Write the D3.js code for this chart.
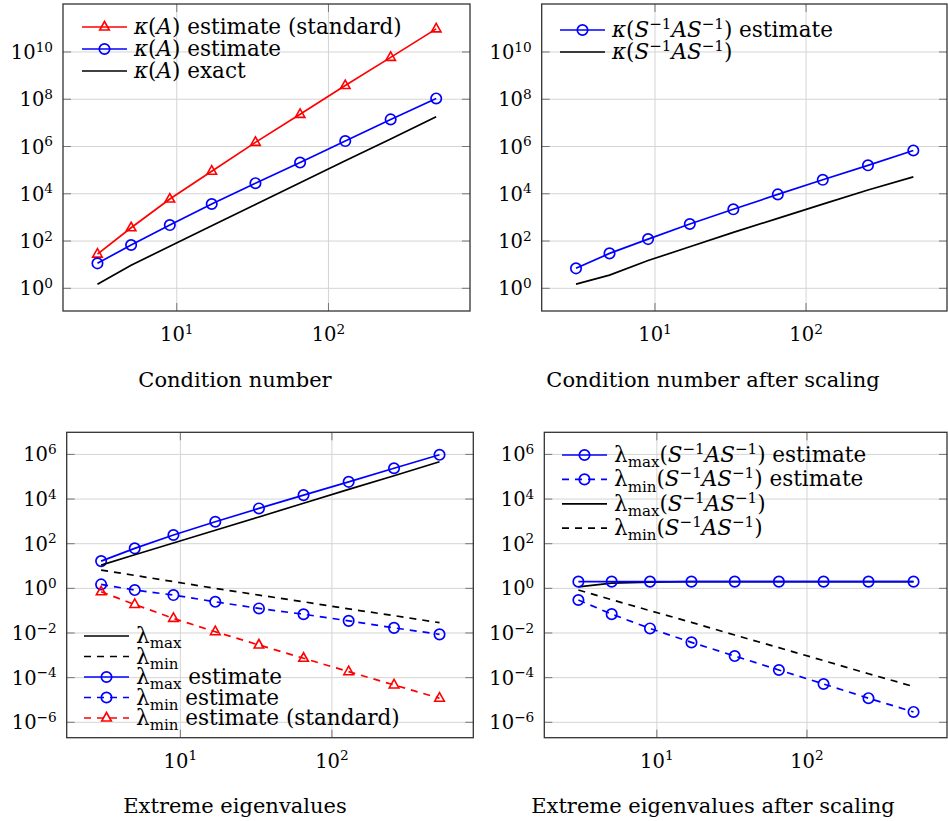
<!DOCTYPE html>
<html>
<head>
<meta charset="utf-8">
<script src="https://cdn.jsdelivr.net/npm/d3@7"></script>
<style>
  body { margin: 0; background: #fff; }
</style>
</head>
<body>
<div id="chart"></div>
<script>
/* matrix sizes on the x axis */
var sizes = [3, 5, 9, 17, 33, 65, 129, 257, 513];

/* condition numbers */
var kappaEstStd = [28, 365, 6000, 9e4, 1.5e6, 2.3e7, 3.8e8, 5.9e9, 9.5e10];
var kappaEst = [11.4, 68, 475, 3700, 2.8e4, 2.1e5, 1.7e6, 1.4e7, 1.08e8];
var kappaExact = [1.5, 9.5, 60, 440, 3500, 2.9e4, 2.5e5, 2.1e6, 1.8e7];

/* condition numbers after scaling */
var kappaScaledEst = [7, 30, 121, 525, 2200, 9400, 3.9e4, 1.6e5, 6.8e5];
var kappaScaled = [1.5, 3.6, 15, 57, 234, 910, 3650, 1.44e4, 5.2e4];

/* extreme eigenvalues */
var lamMax = [11, 32, 107, 400, 1580, 6500, 2.7e4, 1.1e5, 4.7e5];
var lamMin = [6.6, 3.8, 2.0, 1.0, 0.5, 0.25, 0.12, 0.06, 0.029];
var lamMaxEst = [16.6, 62, 245, 960, 3800, 1.5e4, 5.9e4, 2.4e5, 9.6e5];
var lamMinEst = [1.5, 0.84, 0.5, 0.25, 0.126, 0.069, 0.035, 0.017, 0.0087];
var lamMinEstStd = [0.7, 0.19, 0.045, 0.0114, 0.0029, 7.4e-4, 1.85e-4, 4.7e-5, 1.2e-5];

/* extreme eigenvalues after scaling */
var lamMaxScaledEst = [2, 2, 2, 2, 2, 2, 2, 2, 2];
var lamMinScaledEst = [0.3, 0.07, 0.016, 0.0038, 9.3e-4, 2.2e-4, 5.2e-5, 1.2e-5, 2.9e-6];
var lamMaxScaled = [1.17, 1.7, 1.9, 2, 2, 2, 2, 2, 2];
var lamMinScaled = [0.84, 0.31, 0.1, 0.03, 0.0081, 0.0022, 5.8e-4, 1.5e-4, 4e-5];

/* tick exponents */
var xTickExp = [1, 2];
var yTickExpTop = [0, 2, 4, 6, 8, 10];
var yTickExpBottom = [-6, -4, -2, 0, 2, 4, 6];

/* captions */
var captions = ["Condition number", "Condition number after scaling",
                "Extreme eigenvalues", "Extreme eigenvalues after scaling"];

var width = 948, height = 821;
var tickSize = 19.5, legSize = 21.5, capSize = 21;
var FONT = "DejaVu Serif";
var BLUE = "#0000ff", RED = "#ff0000", BLACK = "#000";

var svg = d3.select("#chart").append("svg")
    .attr("width", width).attr("height", height)
    .style("font-family", FONT)
    .style("display", "block");
svg.append("rect").attr("width", width).attr("height", height).attr("fill", "#fff");

/* text made of pieces: [text, style] with style "", "i", "sup", "sub" */
function richText(sel, segs, size) {
    var shift = 0;
    segs.forEach(function(s) {
        var target = s[1] === "sup" ? -0.38 * size : s[1] === "sub" ? 0.24 * size : 0;
        var ts = sel.append("tspan").attr("dy", target - shift).text(s[0]);
        shift = target;
        if (s[1] === "i") ts.style("font-style", "italic");
        if (s[1] === "sup" || s[1] === "sub") ts.style("font-size", (size * 0.7) + "px");
    });
}

function expLabel(e) {
    return [["10", ""], [(e < 0 ? "\u2212" + (-e) : "" + e), "sup"]];
}

var kA = [["\u03ba", "i"], ["(", ""], ["A", "i"], [")", ""]];
var SAS = [["(", ""], ["S", "i"], ["\u22121", "sup"], ["A", "i"], ["S", "i"], ["\u22121", "sup"], [")", ""]];
var lmax = [["\u03bb", ""], ["max", "sub"]];
var lmin = [["\u03bb", ""], ["min", "sub"]];

var panels = [
    { box: [63, 4, 470, 311], y: [Math.pow(10, -0.96), Math.pow(10, 12.03)], yt: yTickExpTop,
      cap: captions[0], capX: 235, capY: 387,
      legend: { x: 82, y: 27, dy: 22 },
      series: [
        { v: kappaEstStd, c: RED, m: "tri", label: kA.concat([[" estimate (standard)", ""]]) },
        { v: kappaEst, c: BLUE, m: "circ", label: kA.concat([[" estimate", ""]]) },
        { v: kappaExact, c: BLACK, label: kA.concat([[" exact", ""]]) }
      ] },
    { box: [541.7, 4, 947, 311], y: [Math.pow(10, -0.96), Math.pow(10, 12.03)], yt: yTickExpTop,
      cap: captions[1], capX: 713, capY: 387,
      legend: { x: 560, y: 30, dy: 22 },
      series: [
        { v: kappaScaledEst, c: BLUE, m: "circ", label: [["\u03ba", "i"]].concat(SAS, [[" estimate", ""]]) },
        { v: kappaScaled, c: BLACK, label: [["\u03ba", "i"]].concat(SAS) }
      ] },
    { box: [66.7, 432.3, 473.3, 737.7], y: [Math.pow(10, -6.69), Math.pow(10, 6.99)], yt: yTickExpBottom,
      cap: captions[2], capX: 235, capY: 813,
      legend: { x: 84, y: 636, dy: 20.5 },
      series: [
        { v: lamMaxEst, c: BLUE, m: "circ", label: lmax.concat([[" estimate", ""]]), order: 2 },
        { v: lamMinEst, c: BLUE, m: "circ", dash: true, label: lmin.concat([[" estimate", ""]]), order: 3 },
        { v: lamMinEstStd, c: RED, m: "tri", dash: true, label: lmin.concat([[" estimate (standard)", ""]]), order: 4 },
        { v: lamMax, c: BLACK, label: lmax, order: 0 },
        { v: lamMin, c: BLACK, dash: true, label: lmin, order: 1 }
      ] },
    { box: [544.3, 432.3, 947, 737.7], y: [Math.pow(10, -6.69), Math.pow(10, 6.99)], yt: yTickExpBottom,
      cap: captions[3], capX: 713, capY: 813,
      legend: { x: 562, y: 455, dy: 24.4 },
      series: [
        { v: lamMaxScaled, c: BLACK, label: lmax.concat(SAS), order: 2 },
        { v: lamMinScaled, c: BLACK, dash: true, label: lmin.concat(SAS), order: 3 },
        { v: lamMaxScaledEst, c: BLUE, m: "circ", label: lmax.concat(SAS, [[" estimate", ""]]), order: 0 },
        { v: lamMinScaledEst, c: BLUE, m: "circ", dash: true, label: lmin.concat(SAS, [[" estimate", ""]]), order: 1 }
      ] }
];

function drawMarker(g, kind, cx, cy, color) {
    if (kind === "circ") {
        g.append("circle").attr("cx", cx).attr("cy", cy).attr("r", 5.2)
            .attr("fill", "none").attr("stroke", color).attr("stroke-width", 1.7);
    } else if (kind === "tri") {
        g.append("path")
            .attr("d", "M" + cx + "," + (cy - 5.5) + "L" + (cx + 4.8) + "," + (cy + 3) + "L" + (cx - 4.8) + "," + (cy + 3) + "Z")
            .attr("fill", "none").attr("stroke", color).attr("stroke-width", 1.6);
    }
}

panels.forEach(function(p) {
    var x0 = p.box[0], y0 = p.box[1], x1 = p.box[2], y1 = p.box[3];
    var x = d3.scaleLog().domain([Math.pow(10, 0.25), Math.pow(10, 2.933)]).range([x0, x1]);
    var y = d3.scaleLog().domain(p.y).range([y1, y0]);
    var g = svg.append("g");

    /* grid */
    xTickExp.forEach(function(e) {
        var xx = x(Math.pow(10, e));
        g.append("line").attr("x1", xx).attr("x2", xx).attr("y1", y0).attr("y2", y1)
            .attr("stroke", "#d4d4d4").attr("stroke-width", 1);
    });
    p.yt.forEach(function(e) {
        var yy = y(Math.pow(10, e));
        g.append("line").attr("x1", x0).attr("x2", x1).attr("y1", yy).attr("y2", yy)
            .attr("stroke", "#d4d4d4").attr("stroke-width", 1);
    });

    /* tick marks, inside on all sides */
    xTickExp.forEach(function(e) {
        var xx = x(Math.pow(10, e));
        [[y1, y1 - 8], [y0, y0 + 8]].forEach(function(t) {
            g.append("line").attr("x1", xx).attr("x2", xx).attr("y1", t[0]).attr("y2", t[1])
                .attr("stroke", "#777").attr("stroke-width", 1);
        });
        var lab = g.append("text").attr("x", xx).attr("y", y1 + 30)
            .attr("text-anchor", "middle").style("font-size", tickSize + "px");
        richText(lab, expLabel(e), tickSize);
    });
    p.yt.forEach(function(e) {
        var yy = y(Math.pow(10, e));
        [[x0, x0 + 8], [x1, x1 - 8]].forEach(function(t) {
            g.append("line").attr("x1", t[0]).attr("x2", t[1]).attr("y1", yy).attr("y2", yy)
                .attr("stroke", "#777").attr("stroke-width", 1);
        });
        var lab = g.append("text").attr("x", x0 - 10).attr("y", yy + 7)
            .attr("text-anchor", "end").style("font-size", tickSize + "px");
        richText(lab, expLabel(e), tickSize);
    });

    /* lines and markers */
    var line = d3.line()
        .x(function(d, i) { return x(sizes[i]); })
        .y(function(d) { return y(d); });
    p.series.forEach(function(s) {
        g.append("path").datum(s.v)
            .attr("fill", "none").attr("stroke", s.c).attr("stroke-width", 1.7)
            .attr("stroke-dasharray", s.dash ? "7,6" : null)
            .attr("d", line);
        if (s.m) {
            s.v.forEach(function(d, i) { drawMarker(g, s.m, x(sizes[i]), y(d), s.c); });
        }
    });

    /* axis box */
    g.append("rect").attr("x", x0).attr("y", y0).attr("width", x1 - x0).attr("height", y1 - y0)
        .attr("fill", "none").attr("stroke", "#333").attr("stroke-width", 1.3);

    /* legend, no frame */
    var entries = p.series;
    if (p.series[0].order !== undefined) {
        entries = p.series.slice().sort(function(a, b) { return a.order - b.order; });
    }
    entries.forEach(function(s, i) {
        var ly = p.legend.y + i * p.legend.dy;
        var lx = p.legend.x;
        g.append("line").attr("x1", lx).attr("x2", lx + 45).attr("y1", ly).attr("y2", ly)
            .attr("stroke", s.c).attr("stroke-width", 1.7)
            .attr("stroke-dasharray", s.dash ? "7,6" : null);
        if (s.m) drawMarker(g, s.m, lx + 22.5, ly, s.c);
        var t = g.append("text").attr("x", lx + 52).attr("y", ly + 7)
            .style("font-size", legSize + "px");
        richText(t, s.label, legSize);
    });

    /* caption */
    svg.append("text").attr("x", p.capX).attr("y", p.capY)
        .attr("text-anchor", "middle").style("font-size", capSize + "px")
        .text(p.cap);
});
</script>
</body>
</html>
